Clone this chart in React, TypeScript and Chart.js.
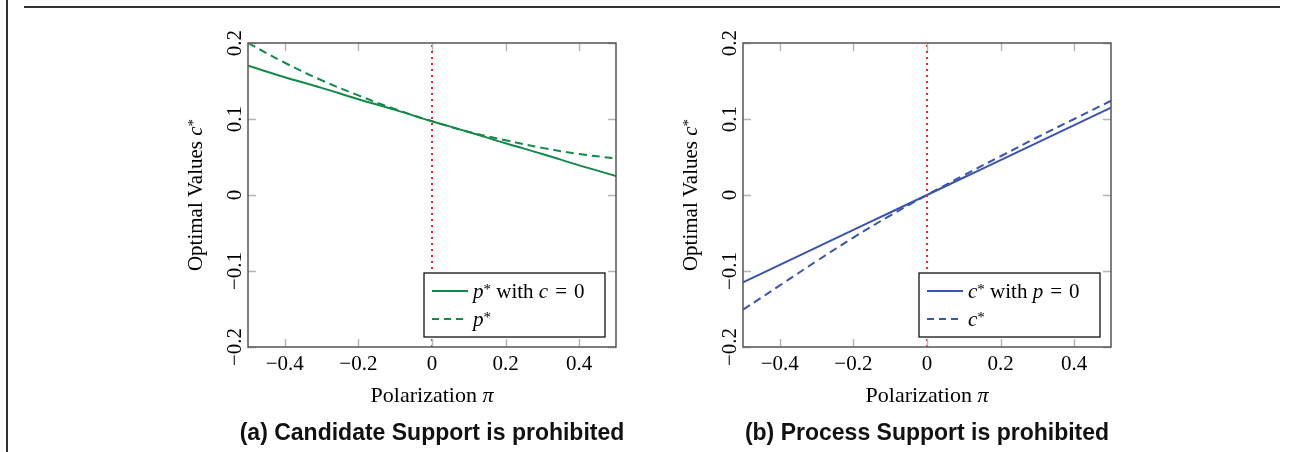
import React, { useEffect, useRef } from 'react';
import { Chart, registerables } from 'chart.js';

Chart.register(...registerables);

// ---- data ----
const piValues = [-0.5, -0.4, -0.3, -0.2, -0.1, 0, 0.1, 0.2, 0.3, 0.4, 0.5];
const pStarNoC = [0.170, 0.155, 0.141, 0.126, 0.112, 0.097, 0.083, 0.068, 0.054, 0.039, 0.025];
const pStar = [0.200, 0.174, 0.151, 0.131, 0.113, 0.097, 0.083, 0.072, 0.062, 0.054, 0.048];
const cStarNoP = [-0.115, -0.092, -0.069, -0.046, -0.023, 0, 0.023, 0.046, 0.069, 0.092, 0.115];
const cStar = [-0.151, -0.119, -0.087, -0.056, -0.027, 0, 0.026, 0.051, 0.076, 0.100, 0.124];
const zeroLineY = [-0.2, 0.2];
const xTicks = [-0.4, -0.2, 0, 0.2, 0.4];
const yTicks = [-0.2, -0.1, 0, 0.1, 0.2];

const GREEN = '#16884a';
const BLUE = '#3a55ab';
const RED = '#ee2a2a';
const SERIF = '"Liberation Serif", "Times New Roman", serif';

type Seg = { t: string; it?: boolean; sup?: boolean };

const fmt = (v: number) => (v < 0 ? '\u2212' + String(Math.abs(v)) : String(v));

function segFont(s: Seg, size: number) {
  const sz = s.sup ? Math.round(size * 0.7) : size;
  return `${s.it ? 'italic ' : ''}${sz}px ${SERIF}`;
}

function drawSegs(ctx: CanvasRenderingContext2D, segs: Seg[], x: number, y: number, size: number, align: 'left' | 'center') {
  ctx.textAlign = 'left';
  ctx.textBaseline = 'alphabetic';
  let w = 0;
  for (const s of segs) {
    ctx.font = segFont(s, size);
    w += ctx.measureText(s.t).width;
  }
  let cx = align === 'center' ? x - w / 2 : x;
  for (const s of segs) {
    ctx.font = segFont(s, size);
    ctx.fillText(s.t, cx, s.sup ? y - size * 0.2 : y);
    cx += ctx.measureText(s.t).width;
  }
}

type PlotCfg = {
  solid: number[];
  dashed: number[];
  color: string;
  legend1: Seg[];
  legend2: Seg[];
  subtitle: string;
  left: number;
};

const EQ = '\u2004=\u20040';

const plots: PlotCfg[] = [
  {
    solid: pStarNoC,
    dashed: pStar,
    color: GREEN,
    legend1: [{ t: 'p', it: true }, { t: '*', sup: true }, { t: ' with ' }, { t: 'c', it: true }, { t: EQ }],
    legend2: [{ t: 'p', it: true }, { t: '*', sup: true }],
    subtitle: '(a) Candidate Support is prohibited',
    left: 140,
  },
  {
    solid: cStarNoP,
    dashed: cStar,
    color: BLUE,
    legend1: [{ t: 'c', it: true }, { t: '*', sup: true }, { t: ' with ' }, { t: 'p', it: true }, { t: EQ }],
    legend2: [{ t: 'c', it: true }, { t: '*', sup: true }],
    subtitle: '(b) Process Support is prohibited',
    left: 635,
  },
];

function makeDecor(cfg: PlotCfg) {
  return {
    id: 'decor',
    afterDatasetsDraw(chart: any) {
      const { ctx, chartArea: a, scales } = chart;
      const xs = scales.x;
      const ys = scales.y;
      ctx.save();
      // inner tick marks on all four sides
      ctx.strokeStyle = '#b4b4b4';
      ctx.lineWidth = 1.4;
      ctx.beginPath();
      for (const v of xTicks) {
        const px = Math.round(xs.getPixelForValue(v)) + 0.5;
        ctx.moveTo(px, a.bottom);
        ctx.lineTo(px, a.bottom - 8);
        ctx.moveTo(px, a.top);
        ctx.lineTo(px, a.top + 8);
      }
      for (const v of yTicks) {
        const py = Math.round(ys.getPixelForValue(v)) + 0.5;
        ctx.moveTo(a.left, py);
        ctx.lineTo(a.left + 8, py);
        ctx.moveTo(a.right, py);
        ctx.lineTo(a.right - 8, py);
      }
      ctx.stroke();
      // frame
      ctx.strokeStyle = '#555555';
      ctx.lineWidth = 1.5;
      ctx.strokeRect(a.left, a.top, a.right - a.left, a.bottom - a.top);

      // rotated y tick labels
      ctx.fillStyle = '#000';
      ctx.font = `21px ${SERIF}`;
      for (const v of yTicks) {
        const py = ys.getPixelForValue(v);
        ctx.save();
        ctx.translate(a.left - 7, py);
        ctx.rotate(-Math.PI / 2);
        ctx.textAlign = 'center';
        ctx.textBaseline = 'alphabetic';
        ctx.fillText(fmt(v), 0, 0);
        ctx.restore();
      }
      // y axis title
      ctx.save();
      ctx.translate(a.left - 46, (a.top + a.bottom) / 2);
      ctx.rotate(-Math.PI / 2);
      drawSegs(ctx, [{ t: 'Optimal Values ' }, { t: 'c', it: true }, { t: '*', sup: true }], 0, 0, 21, 'center');
      ctx.restore();
      // x axis title
      drawSegs(ctx, [{ t: 'Polarization ' }, { t: '\u03c0', it: true }], (a.left + a.right) / 2, 402, 22, 'center');

      // legend
      const bw = 181;
      const bh = 64;
      const bx = a.right - 11 - bw;
      const by = a.bottom - 10 - bh;
      ctx.fillStyle = '#fff';
      ctx.fillRect(bx, by, bw, bh);
      ctx.strokeStyle = '#111';
      ctx.lineWidth = 1.3;
      ctx.strokeRect(bx, by, bw, bh);
      const rows = [
        { y: by + 18, dash: [] as number[], segs: cfg.legend1 },
        { y: by + 46, dash: [7, 5], segs: cfg.legend2 },
      ];
      for (const r of rows) {
        ctx.strokeStyle = cfg.color;
        ctx.lineWidth = 2;
        ctx.setLineDash(r.dash);
        ctx.beginPath();
        ctx.moveTo(bx + 8, r.y);
        ctx.lineTo(bx + 44, r.y);
        ctx.stroke();
        ctx.setLineDash([]);
        ctx.fillStyle = '#000';
        drawSegs(ctx, r.segs, bx + 49, r.y + 7, 21, 'left');
      }

      // subtitle
      ctx.fillStyle = '#111';
      ctx.font = `bold 23px "Liberation Sans", Arial, sans-serif`;
      ctx.textAlign = 'center';
      ctx.textBaseline = 'alphabetic';
      ctx.fillText(cfg.subtitle, (a.left + a.right) / 2, 440);
      ctx.restore();
    },
  };
}

function Plot({ cfg }: { cfg: PlotCfg }) {
  const ref = useRef<HTMLCanvasElement | null>(null);
  useEffect(() => {
    if (!ref.current) return;
    const toXY = (arr: number[]) => piValues.map((x, i) => ({ x, y: arr[i] }));
    const chart = new Chart(ref.current, {
      type: 'line',
      data: {
        datasets: [
          {
            label: 'zero',
            data: zeroLineY.map((y) => ({ x: 0, y })),
            borderColor: RED,
            borderWidth: 2,
            borderDash: [2, 4],
            pointRadius: 0,
          },
          {
            label: 'solid',
            data: toXY(cfg.solid),
            borderColor: cfg.color,
            borderWidth: 2,
            pointRadius: 0,
            tension: 0.4,
          },
          {
            label: 'dashed',
            data: toXY(cfg.dashed),
            borderColor: cfg.color,
            borderWidth: 2,
            borderDash: [8, 5],
            pointRadius: 0,
            tension: 0.4,
          },
        ],
      },
      options: {
        responsive: false,
        animation: false,
        devicePixelRatio: 1,
        layout: { padding: { left: 108, right: 19, top: 43, bottom: 65 } },
        plugins: { legend: { display: false }, tooltip: { enabled: false } },
        scales: {
          x: {
            type: 'linear',
            min: -0.5,
            max: 0.5,
            afterBuildTicks: (s: any) => {
              s.ticks = xTicks.map((v) => ({ value: v }));
            },
            afterFit: (s: any) => {
              s.height = 40;
            },
            grid: { display: false },
            border: { display: false },
            ticks: {
              autoSkip: false,
              maxRotation: 0,
              padding: -3,
              color: '#000',
              font: { family: SERIF, size: 21 },
              callback: (v: any) => fmt(Number(v)),
            },
          },
          y: { type: 'linear', min: -0.2, max: 0.2, display: false },
        },
      },
      plugins: [makeDecor(cfg)],
    } as any);
    return () => chart.destroy();
  }, [cfg]);
  return (
    <canvas
      ref={ref}
      width={495}
      height={452}
      style={{ position: 'absolute', left: cfg.left, top: 0, width: 495, height: 452 }}
    />
  );
}

export default function App() {
  return (
    <div style={{ position: 'absolute', left: 0, top: 0, width: 1296, height: 452, background: '#fff', overflow: 'hidden' }}>
      <div style={{ position: 'absolute', left: 6, top: 0, width: 2, height: 452, background: '#333' }} />
      <div style={{ position: 'absolute', left: 24, top: 6, width: 1256, height: 2, background: '#333' }} />
      {plots.map((p, i) => (
        <Plot key={i} cfg={p} />
      ))}
    </div>
  );
}
